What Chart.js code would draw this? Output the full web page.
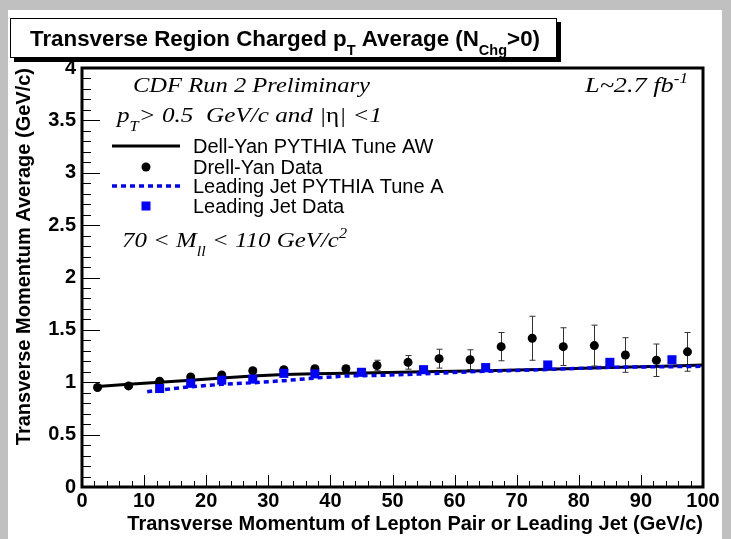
<!DOCTYPE html>
<html>
<head>
<meta charset="utf-8">
<script src="https://cdn.jsdelivr.net/npm/chart.js@4.4.1/dist/chart.umd.min.js"></script>
<style>
  body { margin: 0; background: #c0c0c0; }
  #paper { position: absolute; left: 8px; top: 10px; width: 714px; height: 529px; background: #fff; }
  #wrap { position: absolute; left: 0; top: 0; width: 731px; height: 539px; }
</style>
</head>
<body>
<div id="paper"></div>
<div id="wrap"><canvas id="myChart"></canvas></div>
<script>
// -------------------------------------------------- data
const dyX = [2.5, 7.5, 12.5, 17.5, 22.5, 27.5, 32.5, 37.5, 42.5, 47.5, 52.5, 57.5, 62.5, 67.5, 72.5, 77.5, 82.5, 87.5, 92.5, 97.5];
const dyData = [0.95, 0.965, 1.01, 1.05, 1.07, 1.11, 1.12, 1.13, 1.13, 1.16, 1.19, 1.225, 1.215, 1.34, 1.42, 1.34, 1.35, 1.26, 1.21, 1.29];
const dyErr = [0.01, 0.01, 0.01, 0.015, 0.015, 0.02, 0.02, 0.02, 0.03, 0.05, 0.065, 0.09, 0.095, 0.135, 0.21, 0.18, 0.195, 0.165, 0.155, 0.185];

const jetX = [12.5, 17.5, 22.5, 27.5, 32.5, 37.5, 45, 55, 65, 75, 85, 95];
const jetData = [0.94, 0.99, 1.02, 1.03, 1.085, 1.08, 1.095, 1.12, 1.14, 1.165, 1.19, 1.215];

const dyTuneX = [2.5, 7.5, 12.5, 17.5, 22.5, 27.5, 32.5, 37.5, 42.5, 47.5, 55, 65, 75, 85, 95, 100];
const dyTune = [0.96, 0.98, 1.0, 1.02, 1.04, 1.06, 1.075, 1.08, 1.085, 1.09, 1.1, 1.11, 1.125, 1.14, 1.155, 1.165];

const jetTuneX = [10.5, 12.5, 17.5, 22.5, 27.5, 32.5, 37.5, 42.5, 47.5, 55, 62.5, 72.5, 85, 100];
const jetTune = [0.91, 0.926, 0.957, 0.98, 0.995, 1.015, 1.04, 1.06, 1.065, 1.08, 1.1, 1.117, 1.143, 1.152];

const xTicks = { min: 0, max: 100, step: 10 };
const yTicks = { min: 0, max: 4, step: 0.5 };

const legendLabels = ["Dell-Yan PYTHIA Tune AW", "Drell-Yan Data", "Leading Jet PYTHIA Tune A", "Leading Jet Data"];

// --------------------------------------------------
const SANS = '"Liberation Sans", Arial, sans-serif';
const SERIF = '"Liberation Serif", "Times New Roman", serif';

function pts(xs, ys) {
  return xs.map((x, i) => ({ x: x, y: ys[i] }));
}

// text with sub/superscripts, squeezed to a target width if given
function richText(ctx, x, y, parts, size, family, style, targetW) {
  const fontFor = (k) => {
    const s = k === "sub" || k === "sup" ? size * 0.65 : size;
    const st = k === "up" ? style.replace("italic", "") : style;
    return st + " " + s + "px " + family;
  };
  let total = 0;
  parts.forEach((p) => {
    ctx.font = fontFor(p[1]);
    total += ctx.measureText(p[0]).width;
  });
  const sc = targetW ? targetW / total : 1;
  ctx.save();
  ctx.translate(x, y);
  ctx.scale(sc, 1);
  ctx.fillStyle = "#000";
  ctx.textBaseline = "alphabetic";
  let cx = 0;
  parts.forEach((p) => {
    ctx.font = fontFor(p[1]);
    let dy = 0;
    if (p[1] === "sub") dy = size * 0.4;
    if (p[1] === "sup") dy = -size * 0.42;
    ctx.fillText(p[0], cx, dy);
    cx += ctx.measureText(p[0]).width;
  });
  ctx.restore();
}

// -------------------------------------------------- error bars
const errorBars = {
  id: "errorBars",
  beforeDatasetsDraw(chart) {
    const ctx = chart.ctx;
    const xs = chart.scales.x, ys = chart.scales.y;
    ctx.save();
    ctx.strokeStyle = "#333";
    ctx.lineWidth = 1;
    dyX.forEach((x, i) => {
      const px = Math.round(xs.getPixelForValue(x)) + 0.5;
      const top = ys.getPixelForValue(dyData[i] + dyErr[i]);
      const bot = ys.getPixelForValue(dyData[i] - dyErr[i]);
      ctx.beginPath();
      ctx.moveTo(px, top); ctx.lineTo(px, bot);
      ctx.moveTo(px - 3, top); ctx.lineTo(px + 3, top);
      ctx.moveTo(px - 3, bot); ctx.lineTo(px + 3, bot);
      ctx.stroke();
    });
    ctx.restore();
  },
};

// -------------------------------------------------- frame, ticks, texts, legend
const decorations = {
  id: "decorations",
  afterDraw(chart) {
    const ctx = chart.ctx;
    const a = chart.chartArea;
    const xs = chart.scales.x, ys = chart.scales.y;
    ctx.save();

    // ticks (inside, ROOT style)
    ctx.strokeStyle = "#000";
    ctx.lineWidth = 1;
    ctx.beginPath();
    for (let i = 0; i <= 50; i++) {
      const px = Math.round(xs.getPixelForValue(i * 2)) + 0.5;
      const len = i % 5 === 0 ? 12 : 6;
      ctx.moveTo(px, a.bottom); ctx.lineTo(px, a.bottom - len);
    }
    for (let i = 0; i <= 40; i++) {
      const py = Math.round(ys.getPixelForValue(i * 0.1)) + 0.5;
      const len = i % 5 === 0 ? 18 : 9;
      ctx.moveTo(a.left, py); ctx.lineTo(a.left + len, py);
    }
    ctx.stroke();

    // frame
    ctx.lineWidth = 3;
    ctx.strokeRect(a.left, a.top, a.right - a.left, a.bottom - a.top);

    // title box
    ctx.fillStyle = "#000";
    ctx.fillRect(14, 22, 547, 40);
    ctx.fillStyle = "#fff";
    ctx.fillRect(10, 18, 547, 40);
    ctx.lineWidth = 1;
    ctx.strokeRect(10.5, 18.5, 546, 39);
    richText(ctx, 30, 46, [["Transverse Region Charged p", ""], ["T", "sub"], [" Average (N", ""], ["Chg", "sub"], [">0)", ""]], 22, SANS, "bold", 510);

    // annotations
    richText(ctx, 133, 92, [["CDF Run 2 Preliminary", ""]], 22, SERIF, "italic", 237);
    richText(ctx, 117, 122, [["p", ""], ["T", "sub"], ["> 0.5  GeV/c and |", ""], ["\u03B7", "up"], ["| <1", ""]], 22, SERIF, "italic", 265);
    richText(ctx, 122, 247, [["70 < M", ""], ["ll", "sub"], [" < 110 GeV/c", ""], ["2", "sup"]], 22, SERIF, "italic", 225);
    richText(ctx, 585, 92, [["L~2.7 fb", ""], ["-1", "sup"]], 22, SERIF, "italic", 103);

    // legend
    const rows = [146, 167, 186, 206];
    ctx.lineWidth = 3;
    ctx.strokeStyle = "#000";
    ctx.beginPath(); ctx.moveTo(112, rows[0]); ctx.lineTo(180, rows[0]); ctx.stroke();
    ctx.fillStyle = "#000";
    ctx.beginPath(); ctx.arc(146, rows[1], 4.5, 0, Math.PI * 2); ctx.fill();
    ctx.strokeStyle = "#0000ff";
    ctx.lineWidth = 3.5;
    ctx.setLineDash([5, 4]);
    ctx.beginPath(); ctx.moveTo(112, rows[2]); ctx.lineTo(180, rows[2]); ctx.stroke();
    ctx.setLineDash([]);
    ctx.fillStyle = "#0000ff";
    ctx.fillRect(141.5, rows[3] - 4.5, 9, 9);

    ctx.fillStyle = "#000";
    ctx.font = "20px " + SANS;
    ctx.textBaseline = "middle";
    legendLabels.forEach((t, i) => ctx.fillText(t, 193, rows[i] + 1));
    ctx.restore();
  },
};

// --------------------------------------------------
const tickFont = { family: SANS, size: 20, weight: "bold" };

new Chart(document.getElementById("myChart"), {
  type: "scatter",
  data: {
    datasets: [
      {
        label: legendLabels[0],
        data: pts(dyTuneX, dyTune),
        showLine: true,
        pointRadius: 0,
        borderColor: "#000",
        borderWidth: 3,
        order: 4,
      },
      {
        label: legendLabels[2],
        data: pts(jetTuneX, jetTune),
        showLine: true,
        pointRadius: 0,
        borderColor: "#0000ff",
        borderWidth: 3.5,
        borderDash: [5, 4],
        order: 3,
      },
      {
        label: legendLabels[1],
        data: pts(dyX, dyData),
        pointStyle: "circle",
        pointRadius: 4.5,
        backgroundColor: "#000",
        borderColor: "#000",
        borderWidth: 0,
        order: 2,
      },
      {
        label: legendLabels[3],
        data: pts(jetX, jetData),
        pointStyle: "rect",
        pointRadius: 6.4,
        backgroundColor: "#0000ff",
        borderColor: "#0000ff",
        borderWidth: 0,
        order: 1,
      },
    ],
  },
  options: {
    responsive: true,
    maintainAspectRatio: false,
    animation: false,
    layout: { padding: { left: 0, top: 68, right: 28, bottom: 0 } },
    plugins: {
      legend: { display: false },
      tooltip: { enabled: false },
    },
    scales: {
      x: {
        type: "linear",
        min: xTicks.min,
        max: xTicks.max,
        afterFit: (s) => { s.height = 52; },
        grid: { display: false, drawTicks: false },
        border: { display: false },
        ticks: { stepSize: xTicks.step, color: "#000", font: tickFont, padding: 2, maxRotation: 0, autoSkip: false },
        title: {
          display: true,
          text: "Transverse Momentum of Lepton Pair or Leading Jet (GeV/c)",
          align: "end",
          color: "#000",
          font: { family: SANS, size: 20, weight: "bold" },
          padding: { top: 0, bottom: 3 },
        },
      },
      y: {
        min: yTicks.min,
        max: yTicks.max,
        afterFit: (s) => { s.width = 82; },
        grid: { display: false, drawTicks: false },
        border: { display: false },
        ticks: {
          stepSize: yTicks.step,
          color: "#000",
          font: tickFont,
          padding: 6,
          callback: (v) => String(v),
        },
        title: {
          display: true,
          text: "Transverse Momentum Average (GeV/c)",
          align: "end",
          color: "#000",
          font: { family: SANS, size: 20, weight: "bold" },
          padding: { top: 12, bottom: 0 },
        },
      },
    },
  },
  plugins: [errorBars, decorations],
});
</script>
</body>
</html>
